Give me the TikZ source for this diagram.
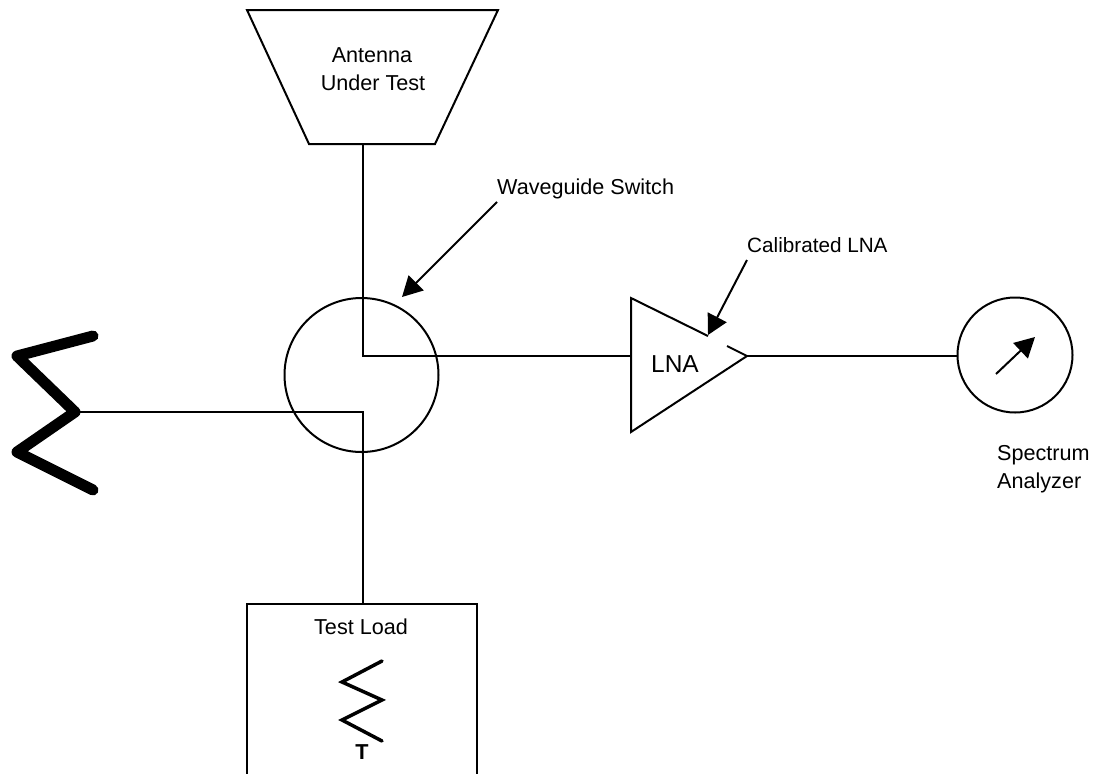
\documentclass[tikz,border=0pt]{standalone}
\usepackage{fontspec}
\setmainfont{Liberation Sans}
\usetikzlibrary{arrows.meta}
\tikzset{
  lbl/.style={inner sep=0pt,anchor=base,font=\fontsize{21.6}{29}\selectfont},
  ring/.style={draw,circle,inner sep=0pt,line width=2pt},
  wire/.style={line width=2pt},
  pointer/.style={line width=2pt,-{Triangle[length=20pt,width=21pt]}}
}
\begin{document}
\begin{tikzpicture}[line join=miter,x=1pt,y=-1pt]
\useasboundingbox (0,0) rectangle (1093,774);
\def\xw{363} \def\yr{356} \def\yl{412}
% antenna
\coordinate (al) at (247,10);
\coordinate (ar) at (498,10);
\coordinate (bl) at (309,144);
\coordinate (br) at (435,144);
\coordinate (ant) at (\xw,144);
\draw[wire] (al)--(ar)--(br)--(bl)--cycle;
\node[lbl] (antlbl) at (372,62) {Antenna};
\node[lbl] (utlbl) at (373,90) {Under Test};
% switch
\node[ring,minimum size=154pt] (sw) at (361.5,375) {};
\coordinate (c1) at (\xw,\yr);
\coordinate (c2) at (\xw,\yl);
\node[lbl,anchor=base west] (swlbl) at (497,194) {Waveguide Switch};
\coordinate (swfrom) at (497,202);
\coordinate (swto) at (402,297);
\draw[pointer] (swfrom)--(swto);
% amplifier
\coordinate (t1) at (631,298);
\coordinate (t2) at (708,336);
\coordinate (t3) at (727,346);
\coordinate (tip) at (747,\yr);
\coordinate (t4) at (631,432);
\coordinate (lnain) at (631,\yr);
\draw[wire] (t2)--(t1)--(t4)--(tip)--(t3);
\node[lbl,font=\fontsize{24.5}{29}\selectfont] (lna) at (675,372) {LNA};
\node[lbl,anchor=base west,font=\fontsize{20.7}{29}\selectfont] (lnalbl) at (747,252) {Calibrated LNA};
\coordinate (lnafrom) at (747,260);
\coordinate (lnato) at (708,335);
\draw[pointer] (lnafrom)--(lnato);
% analyzer
\node[ring,minimum size=115pt] (sa) at (1015,355) {};
\coordinate (nf) at (996,374);
\coordinate (nt) at (1035,337);
\draw[pointer] (nf)--(nt);
\node[lbl,anchor=base west] (salbl) at (997,460) {Spectrum};
\node[lbl,anchor=base west] (salbl2) at (997,488) {Analyzer};
% terminating element
\coordinate (z1) at (93,336);
\coordinate (z2) at (17,356);
\coordinate (z3) at (75,412);
\coordinate (z4) at (17,452);
\coordinate (z5) at (93,490);
\draw[line width=11pt,line cap=round,line join=round] (z1)--(z2)--(z3)--(z4)--(z5);
% test load
\coordinate (tl) at (247,774);
\coordinate (tt) at (247,604);
\coordinate (tr) at (477,604);
\coordinate (tb) at (477,774);
\coordinate (tin) at (\xw,604);
\draw[wire] (tl)--(tt)--(tr)--(tb);
\node[lbl] (tllbl) at (361,634) {Test Load};
\coordinate (r1) at (382,661);
\coordinate (r2) at (342,682);
\coordinate (r3) at (382,700);
\coordinate (r4) at (342,720);
\coordinate (r5) at (382,741);
\draw[line width=3.5pt,line cap=round] (r1)--(r2)--(r3)--(r4)--(r5);
\node[lbl,font=\bfseries\fontsize{21.6}{24}\selectfont] (tlbl) at (362,759) {T};
% wiring
\draw[wire] (ant)--(c1)--(lnain);
\draw[wire] (tip)--(tip-|sa.west);
\draw[wire] (z3)--(c2)--(tin);
\end{tikzpicture}
\end{document}
